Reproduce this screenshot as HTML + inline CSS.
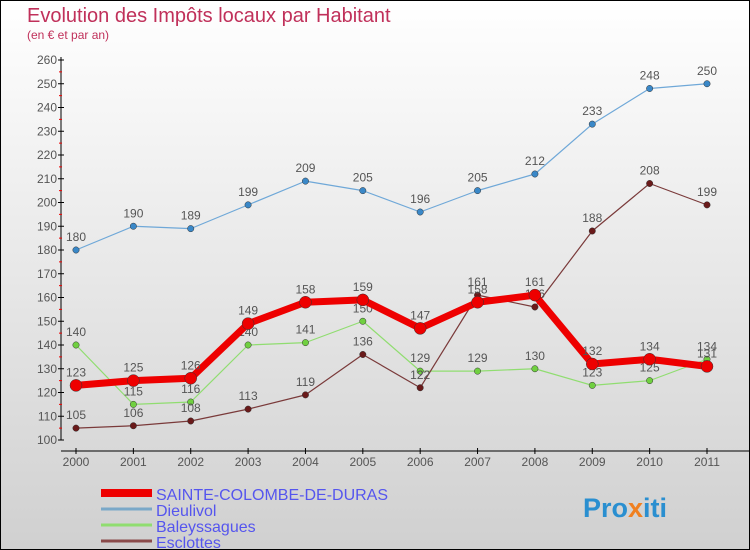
<!DOCTYPE html>
<html><head><meta charset="utf-8"><style>
body{margin:0}
#c{width:748px;height:548px;border:1px solid #000;background:linear-gradient(#fff,#d0d0d0);position:relative;font-family:"Liberation Sans",sans-serif;overflow:hidden}
text{font-family:"Liberation Sans",sans-serif}
</style></head><body>
<div id="c">
<svg id="s" width="748" height="548">
<text x="26" y="21" font-size="20" fill="#c0305a">Evolution des Impôts locaux par Habitant</text>
<text x="26" y="38" font-size="12" fill="#c0305a">(en € et par an)</text>
<g id="axes"></g><g id="series"></g><g id="legend"></g>
<text x="582" y="516" font-size="27" font-weight="bold" fill="#2a8fd0">Pro<tspan fill="#f08020">x</tspan>iti</text>
</svg></div>
<script>
const years=["2000","2001","2002","2003","2004","2005","2006","2007","2008","2009","2010","2011"];
const yTicks=[100,110,120,130,140,150,160,170,180,190,200,210,220,230,240,250,260];
const sainteColombe=[123,125,126,149,158,159,147,158,161,132,134,131];
const dieulivol=[180,190,189,199,209,205,196,205,212,233,248,250];
const baleyssagues=[140,115,116,140,141,150,129,129,130,123,125,134];
const esclottes=[105,106,108,113,119,136,122,161,156,188,208,199];
const NS="http://www.w3.org/2000/svg";
const X=i=>75+i*(631/11);
const Y=v=>439-(v-100)*2.375;
function mk(t,a,p){const e=document.createElementNS(NS,t);for(const k in a)e.setAttribute(k,a[k]);p.appendChild(e);return e;}
const ax=document.getElementById('axes');
let l=mk('line',{x1:60,y1:Y(260)-3,x2:60,y2:Y(100),stroke:'#000','stroke-width':1},ax);

l=mk('line',{x1:60,y1:450,x2:748,y2:450,stroke:'#000','stroke-width':1},ax);

yTicks.forEach((v,i)=>{
 mk('line',{x1:57,y1:Y(v),x2:63,y2:Y(v),stroke:'#000'},ax);
 if(i<yTicks.length-1)mk('line',{x1:58,y1:Y(v+5),x2:61,y2:Y(v+5),stroke:'#e00'},ax);
 const t=mk('text',{x:56,y:Y(v)+4,'font-size':12,fill:'#555','text-anchor':'end'},ax);t.textContent=v;
 
});
years.forEach((y,i)=>{
 mk('line',{x1:X(i),y1:447,x2:X(i),y2:453,stroke:'#000'},ax);
 const t=mk('text',{x:X(i),y:465,'font-size':12,fill:'#555','text-anchor':'middle'},ax);t.textContent=y;
 
});
const sg=document.getElementById('series');
function series(d,color,w,r,name,dot){
 const g=mk('g',{},sg);
 
 const p=mk('polyline',{points:d.map((v,i)=>X(i)+','+Y(v)).join(' '),fill:'none',stroke:color,'stroke-width':w,'stroke-linejoin':'round'},g);
 
 d.forEach((v,i)=>{
  const c=mk('circle',{cx:X(i),cy:Y(v),r:r,fill:dot,stroke:'#333','stroke-width':0.5},g);
  
  const t=mk('text',{x:X(i),y:Y(v)-9,'font-size':12,fill:'#555','text-anchor':'middle'},g);t.textContent=v;
  
 });
}
series(dieulivol,'#6fa8d8',1.2,3.2,'dieulivol','#3a88c8');
series(baleyssagues,'#90dd70',1.2,3.2,'baleyssagues','#70d040');
series(esclottes,'#7a3a3a',1.2,3.2,'esclottes','#6a1a1a');
series(sainteColombe,'#ee0000',7,6,'sainte-colombe','#ee0000');
const lg=document.getElementById('legend');
[["SAINTE-COLOMBE-DE-DURAS","#ee0000",8],["Dieulivol","#7aa8c8",3],["Baleyssagues","#90dd70",3],["Esclottes","#8a4a4a",3]].forEach((e,i)=>{
 const y=492+i*16;
 const a=mk('line',{x1:100,y1:y,x2:151,y2:y,stroke:e[1],'stroke-width':e[2]},lg);
 
 const t=mk('text',{x:155,y:y+7,'font-size':16,fill:'#5555ee'},lg);t.textContent=e[0];
 
});
</script>
</body></html>
